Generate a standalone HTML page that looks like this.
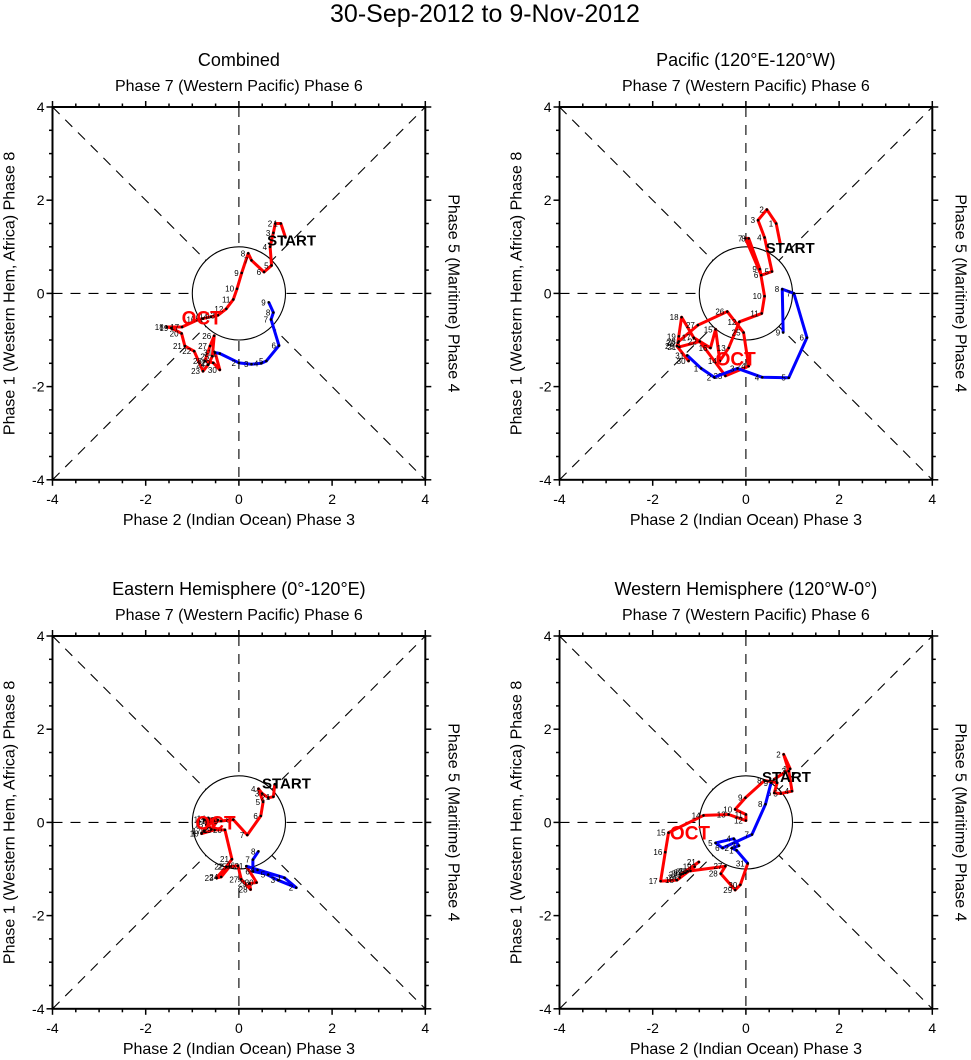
<!DOCTYPE html>
<html><head><meta charset="utf-8"><style>
body{margin:0;background:#fff;}
svg{display:block;font-family:"Liberation Sans",Arial,sans-serif;}
</style></head><body>
<svg id="chart" width="971" height="1060" viewBox="0 0 971 1060" xmlns="http://www.w3.org/2000/svg">
<text x="485" y="22" font-size="25" text-anchor="middle">30-Sep-2012 to 9-Nov-2012</text>
</svg>
<script>
// Panel data: RMM1 (x), RMM2 (y)
const titles = ["Combined","Pacific (120°E-120°W)","Eastern Hemisphere (0°-120°E)","Western Hemisphere (120°W-0°)"];
const redX1 = [1.0,0.9,0.78,0.74,0.67,0.7,0.54,0.27,0.2,0.06,-0.04,-0.12,-0.27,-0.45,-0.6,-0.77,-0.87,-1.22,-1.55,-1.45,-1.23,-1.16,-0.96,-0.77,-0.66,-0.57,-0.53,-0.62,-0.73,-0.55,-0.41,-0.51];
const redY1 = [1.2,1.5,1.5,1.3,1.0,0.6,0.46,0.71,0.86,0.44,0.1,-0.13,-0.33,-0.47,-0.5,-0.54,-0.56,-0.72,-0.72,-0.74,-0.86,-1.13,-1.24,-1.67,-1.53,-1.35,-0.91,-1.13,-1.45,-1.49,-1.64,-1.27];
const blueX1 = [-0.51,-0.41,0,0.27,0.48,0.59,0.86,0.69,0.74,0.64];
const blueY1 = [-1.27,-1.29,-1.49,-1.52,-1.5,-1.45,-1.12,-0.56,-0.41,-0.19];
const redX2 = [0.74,0.65,0.45,0.26,0.4,0.56,0.33,-0.01,0.06,0.3,0.4,0.34,-0.14,-0.37,-0.56,-0.65,-0.76,-1.12,-1.38,-1.44,-1.46,-1.43,-0.99,-0.44,0.06,-0.05,-0.4,-1.03,-1.44,-1.48,-1.23,-1.26];
const redY2 = [1.05,1.5,1.8,1.57,1.2,0.47,0.39,1.18,1.18,0.52,-0.06,-0.43,-0.61,-1.17,-1.45,-0.77,-1.17,-0.95,-0.51,-0.92,-1.06,-1.15,-1.03,-1.77,-1.56,-0.84,-0.39,-0.68,-1.03,-1.13,-1.45,-1.33];
const blueX2 = [-1.26,-0.96,-0.68,-0.18,0.35,0.92,1.31,1.03,0.78,0.8];
const blueY2 = [-1.33,-1.61,-1.8,-1.61,-1.8,-1.81,-0.95,0,0.09,-0.84];
const redX3 = [0.77,0.74,0.63,0.5,0.42,0.52,0.47,0.18,-0.12,-0.38,-0.56,-0.73,-0.59,-0.45,-0.65,-0.7,-0.55,-0.75,-0.8,-0.52,-0.3,-0.15,-0.27,-0.48,-0.38,-0.2,-0.02,0.05,0.25,0.23,0.38,0.16];
const redY3 = [0.82,0.55,0.53,0.62,0.72,0.44,0.14,-0.27,0.06,0.03,0.03,0.06,-0.15,0.05,0.08,-0.05,0.06,-0.18,-0.24,-0.16,-0.16,-0.79,-0.95,-1.19,-1.17,-0.95,-0.93,-1.22,-1.44,-1.31,-1.29,-0.94];
const blueX3 = [0.16,0.98,1.23,0.84,0.4,0.63,0.3,0.3,0.42];
const blueY3 = [-0.94,-1.19,-1.4,-1.24,-1.02,-1.12,-1.05,-0.8,-0.62];
const redX4 = [0.6,0.95,0.81,0.92,0.99,0.75,0.61,0.67,0.4,-0.01,-0.23,0,0,-0.37,-0.91,-1.66,-1.73,-1.83,-1.48,-1.1,-1.35,-1.01,-1.4,-1.3,-1.42,-1.25,-1.19,-0.44,-0.54,-0.23,-0.12,0.04];
const redY4 = [0.92,1.15,1.46,1.1,0.67,0.62,0.63,0.85,0.9,0.53,0.28,0.17,0.04,0.17,0.15,-0.22,-0.64,-1.26,-1.24,-0.95,-1.1,-0.85,-1.12,-1.08,-1.18,-1.05,-1.04,-0.94,-1.1,-1.45,-1.34,-0.88];
const blueX4 = [0.04,-0.2,-0.3,-0.15,-0.26,-0.65,-0.5,0.13,0.42,0.54];
const blueY4 = [-0.88,-0.6,-0.55,-0.5,-0.35,-0.44,-0.55,-0.26,0.39,0.85];
const octX = [-0.8,-0.22,-0.5,-1.2];
const octY = [-0.52,-1.4,0.0,-0.22];
const startX = [1.13,0.95,1.02,0.87];
const startY = [1.16,1.0,0.86,1.0];
const tickVals = [-4,-2,0,2,4];

const reds = [[redX1,redY1],[redX2,redY2],[redX3,redY3],[redX4,redY4]];
const blues = [[blueX1,blueY1],[blueX2,blueY2],[blueX3,blueY3],[blueX4,blueY4]];
const origins = [[52.5,107],[559.5,107],[52.5,636],[559.5,636]];
const S = 46.6;
const NS = "http://www.w3.org/2000/svg";
const svg = document.getElementById('chart');
function mk(tag, attrs, parent, txt){const e=document.createElementNS(NS,tag);for(const k in attrs)e.setAttribute(k,attrs[k]);if(txt!==undefined)e.textContent=txt;(parent||svg).appendChild(e);return e;}

for(let p=0;p<4;p++){
  const [ox,oy]=origins[p];
  const sx=v=>ox+(v+4)*S, sy=v=>oy+(4-v)*S;
  const g=mk('g',{});
  
  
  const cx=sx(0), cy=sy(0), L=ox, R=sx(4), T=oy, B=sy(-4);
  const t=mk('text',{x:cx,y:T-41,'font-size':18,'text-anchor':'middle'},g,titles[p]);
  
  
  const st=mk('text',{x:cx,y:T-16,'font-size':16,'text-anchor':'middle'},g,'Phase 7 (Western Pacific) Phase 6');
  
  
  const bt=mk('text',{x:cx,y:B+45,'font-size':16,'text-anchor':'middle'},g,'Phase 2 (Indian Ocean) Phase 3');
  
  
  const lt=mk('text',{x:0,y:0,'font-size':16,'text-anchor':'middle',transform:`translate(${L-38},${cy}) rotate(-90)`},g,'Phase 1 (Western Hem, Africa) Phase 8');
  
  
  const rt=mk('text',{x:0,y:0,'font-size':16,'text-anchor':'middle',transform:`translate(${R+23},${cy}) rotate(90)`},g,'Phase 5 (Maritime) Phase 4');
  
  
  const dash={stroke:'#000','stroke-width':1.1,'stroke-dasharray':'10,8',fill:'none'};
  mk('line',Object.assign({x1:L,y1:cy,x2:R,y2:cy},dash),g);
  mk('line',Object.assign({x1:cx,y1:T,x2:cx,y2:B},dash),g);
  mk('line',Object.assign({x1:L,y1:T,x2:R,y2:B},dash),g);
  mk('line',Object.assign({x1:L,y1:B,x2:R,y2:T},dash),g);
  mk('circle',{cx:cx,cy:cy,r:S,fill:'#fff',stroke:'#000','stroke-width':1.1},g);
  mk('rect',{x:L,y:T,width:R-L,height:B-T,fill:'none',stroke:'#000','stroke-width':2},g);
  for(let v=-4;v<=4;v+=0.5){
    const maj=(v%2===0), len=maj?6:3.5;
    mk('line',{x1:sx(v),y1:B,x2:sx(v),y2:B+len,stroke:'#000','stroke-width':1.5},g);
    mk('line',{x1:sx(v),y1:T,x2:sx(v),y2:T-len,stroke:'#000','stroke-width':1.5},g);
    mk('line',{x1:L,y1:sy(v),x2:L-len,y2:sy(v),stroke:'#000','stroke-width':1.5},g);
    mk('line',{x1:R,y1:sy(v),x2:R+len,y2:sy(v),stroke:'#000','stroke-width':1.5},g);
  }
  tickVals.forEach(v=>{
    const a=mk('text',{x:sx(v),y:B+24,'font-size':14,'text-anchor':'middle'},g,String(v));
    
    
    const b=mk('text',{x:L-8,y:sy(v)+5,'font-size':14,'text-anchor':'end'},g,String(v));
    
    
  });
  const drawSeries=(xs,ys,color,name)=>{
    const pts=xs.map((x,i)=>sx(x)+','+sy(ys[i])).join(' ');
    const pl=mk('polyline',{points:pts,fill:'none',stroke:color,'stroke-width':3,'stroke-linejoin':'round'},g);
    
    
    xs.forEach((x,i)=>{
      mk('circle',{cx:sx(x),cy:sy(ys[i]),r:1.3,fill:'#000'},g);
      if(i>0){
        const lb=mk('text',{x:sx(x)-3,y:sy(ys[i])+3,'font-size':8,'text-anchor':'end'},g,String(i));
        
        
      }
    });
  };
  drawSeries(reds[p][0],reds[p][1],'#f00','october-track');
  drawSeries(blues[p][0],blues[p][1],'#00f','november-track');
  const o=mk('text',{x:sx(octX[p]),y:sy(octY[p])+7,'font-size':19,'text-anchor':'middle',fill:'#f00','font-weight':'bold'},g,'OCT');
  
  
  const s=mk('text',{x:sx(startX[p]),y:sy(startY[p])+6,'font-size':15,'text-anchor':'middle','font-weight':'bold'},g,'START');
  
  
}
</script>
</body></html>
